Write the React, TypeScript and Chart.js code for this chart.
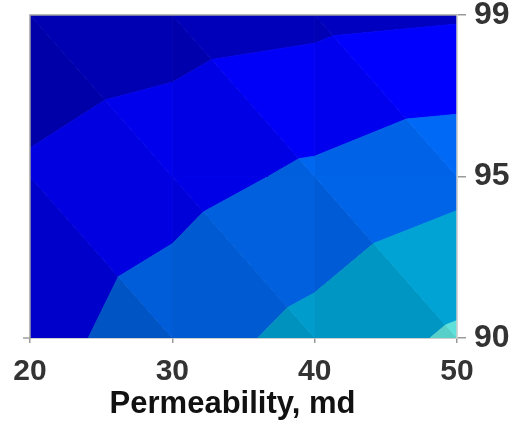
import React, { useEffect, useRef } from 'react';
import { Chart, registerables } from 'chart.js';

Chart.register(...registerables);

// x nodes (permeability, md)
const permeability = [20, 30, 40, 50];
// y nodes: equally spaced rows labelled 90, 95, 99
const yPositions = [0, 1, 2];
const yTickLabels = ['90', '95', '99'];
// contoured quantity at each node, one array per row
const zAt90 = [1.64, 2.52, 3.32, 4.16];
const zAt95 = [1.15, 1.63, 2.18, 2.69];
const zAt99 = [0.3, 0.55, 0.75, 0.9];
const contourLevels = [1, 2, 3, 4];
const bandColors = ['#0000b2', '#0000ec', '#0062e4', '#00a0d0', '#5edcd6'];
const xTitle = 'Permeability, md';

const FONT = "'Liberation Sans', Arial, Helvetica, sans-serif";

type P = { x: number; y: number; z: number };

function clipPoly(poly: P[], level: number, keepAbove: boolean): P[] {
  if (!isFinite(level) || poly.length === 0) return poly;
  const out: P[] = [];
  const inside = (p: P) => (keepAbove ? p.z >= level : p.z <= level);
  for (let k = 0; k < poly.length; k++) {
    const a = poly[k];
    const b = poly[(k + 1) % poly.length];
    const ia = inside(a);
    const ib = inside(b);
    if (ia) out.push(a);
    if (ia !== ib) {
      const t = (level - a.z) / (b.z - a.z);
      out.push({ x: a.x + t * (b.x - a.x), y: a.y + t * (b.y - a.y), z: level });
    }
  }
  return out;
}

function shadeColor(hex: string, f: number): string {
  const n = parseInt(hex.slice(1), 16);
  const r = Math.min(255, Math.round(((n >> 16) & 255) * f));
  const g = Math.min(255, Math.round(((n >> 8) & 255) * f));
  const b = Math.min(255, Math.round((n & 255) * f));
  return `rgb(${r},${g},${b})`;
}

const contourPlugin = {
  id: 'filledContour',
  beforeDatasetsDraw(chart: any) {
    const { ctx, chartArea, scales } = chart;
    const xs = scales.x;
    const ys = scales.y;
    const rows = [zAt90, zAt95, zAt99];
    const node = (i: number, j: number): P => ({
      x: xs.getPixelForValue(permeability[i]),
      y: ys.getPixelForValue(yPositions[j]),
      z: rows[j][i],
    });
    const bounds = [-Infinity, ...contourLevels, Infinity];
    ctx.save();
    ctx.beginPath();
    ctx.rect(chartArea.left, chartArea.top, chartArea.right - chartArea.left, chartArea.bottom - chartArea.top);
    ctx.clip();
    for (let j = 0; j < rows.length - 1; j++) {
      for (let i = 0; i < permeability.length - 1; i++) {
        const tl = node(i, j + 1);
        const bl = node(i, j);
        const br = node(i + 1, j);
        const tr = node(i + 1, j + 1);
        const tris = [
          { pts: [tl, bl, br], gx: br.z - bl.z, gy: tl.z - bl.z },
          { pts: [tl, tr, br], gx: tr.z - tl.z, gy: tr.z - br.z },
        ];
        for (const tri of tris) {
          const s = -tri.gy - tri.gx;
          const f = Math.max(0.86, Math.min(1.08, 1 + 0.12 * (s - 0.8)));
          for (let b = 0; b < bandColors.length; b++) {
            let poly = clipPoly(tri.pts, bounds[b], true);
            poly = clipPoly(poly, bounds[b + 1], false);
            if (poly.length < 3) continue;
            const col = shadeColor(bandColors[b], f);
            ctx.beginPath();
            ctx.moveTo(poly[0].x, poly[0].y);
            for (let k = 1; k < poly.length; k++) ctx.lineTo(poly[k].x, poly[k].y);
            ctx.closePath();
            ctx.fillStyle = col;
            ctx.fill();
            ctx.strokeStyle = col;
            ctx.lineWidth = 0.8;
            ctx.stroke();
          }
        }
      }
    }
    ctx.restore();
  },
  afterDatasetsDraw(chart: any) {
    const { ctx, chartArea } = chart;
    ctx.save();
    ctx.strokeStyle = '#a0a0a0';
    ctx.lineWidth = 1.5;
    ctx.beginPath();
    ctx.moveTo(chartArea.left - 7, chartArea.bottom);
    ctx.lineTo(chartArea.left, chartArea.bottom);
    ctx.lineTo(chartArea.left, chartArea.top);
    ctx.lineTo(chartArea.right, chartArea.top);
    ctx.stroke();
    ctx.strokeStyle = '#cfcfcf';
    ctx.beginPath();
    ctx.moveTo(chartArea.right, chartArea.top);
    ctx.lineTo(chartArea.right, chartArea.bottom);
    ctx.stroke();
    ctx.restore();
  },
  afterDraw(chart: any) {
    // axis title, centred a little left of the plot centre as in the source figure
    const { ctx, chartArea } = chart;
    ctx.save();
    ctx.font = `bold 31px ${FONT}`;
    ctx.fillStyle = '#111111';
    ctx.textAlign = 'center';
    ctx.textBaseline = 'alphabetic';
    ctx.fillText(xTitle, (chartArea.left + chartArea.right) / 2 - 11, chartArea.bottom + 75);
    ctx.restore();
  },
};

export default function App() {
  const canvasRef = useRef<HTMLCanvasElement | null>(null);

  useEffect(() => {
    if (!canvasRef.current) return;
    const nodes: { x: number; y: number }[] = [];
    yPositions.forEach((y) => permeability.forEach((x) => nodes.push({ x, y })));
    const chart = new Chart(canvasRef.current, {
      type: 'scatter',
      data: {
        datasets: [
          {
            data: nodes,
            pointRadius: 0,
            showLine: false,
          },
        ],
      },
      options: {
        animation: false,
        responsive: true,
        maintainAspectRatio: false,
        layout: { padding: { left: 30, top: 15, right: 0, bottom: 0 } },
        plugins: {
          legend: { display: false },
          tooltip: { enabled: false },
        },
        scales: {
          x: {
            type: 'linear',
            position: 'bottom',
            min: 20,
            max: 50,
            afterFit: (s: any) => {
              s.height = 86;
              s.paddingLeft = 0;
              s.paddingRight = 0;
            },
            ticks: {
              stepSize: 10,
              color: '#333333',
              font: { family: FONT, size: 30, weight: 'bold' },
              padding: 11,
              maxRotation: 0,
            },
            grid: {
              drawOnChartArea: false,
              drawTicks: true,
              tickLength: 5,
              color: '#9a9a9a',
              lineWidth: 1.5,
            },
            border: { display: true, color: '#a0a0a0', width: 1.5 },
          },
          y: {
            type: 'linear',
            position: 'right',
            min: 0,
            max: 2,
            afterFit: (s: any) => {
              s.width = 55;
              s.paddingTop = 0;
              s.paddingBottom = 0;
            },
            ticks: {
              stepSize: 1,
              callback: (v: any) => yTickLabels[Math.round(Number(v))] ?? '',
              color: '#333333',
              font: { family: FONT, size: 32, weight: 'bold' },
              padding: 8,
            },
            grid: {
              drawOnChartArea: false,
              drawTicks: true,
              tickLength: 9,
              color: '#9a9a9a',
              lineWidth: 1.5,
            },
            border: { display: true, color: '#cfcfcf', width: 1.5 },
          },
        },
      },
      plugins: [contourPlugin],
    });
    return () => chart.destroy();
  }, []);

  return (
    <div style={{ position: 'fixed', left: 0, top: 0, width: 512, height: 424 }}>
      <canvas ref={canvasRef} />
    </div>
  );
}
